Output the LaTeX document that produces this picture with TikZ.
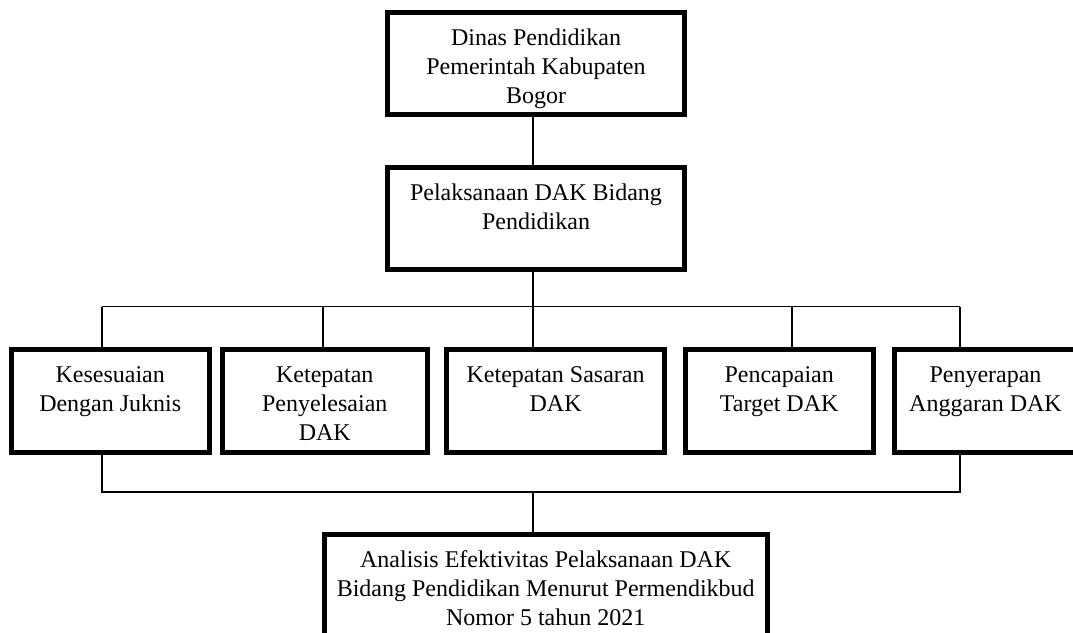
\documentclass[tikz,border=0pt]{standalone}
\usepackage{fontspec}
\setmainfont{Liberation Serif}
\newcommand{\isikotak}[3]{\parbox[c][#2][t]{#1}{\centering\rule{0pt}{16.5pt}#3}}

\begin{document}
\begin{tikzpicture}[x=0.5pt,y=-0.5pt]
\tikzset{
  kotak/.style={draw,line width=2.5pt,inner sep=0pt,font=\fontsize{12}{14.6}\selectfont},
  garis/.style={line width=0.75pt}
}
\useasboundingbox (0,0) rectangle (1073,633);
\node[kotak] (dinas) at (536,63.5) {\isikotak{148.5pt}{51pt}{Dinas Pendidikan\\Pemerintah Kabupaten\\Bogor}};
\node[kotak] (pelaksanaan) at (536,218.5) {\isikotak{148.5pt}{51pt}{Pelaksanaan DAK Bidang\\Pendidikan}};
\node[kotak] (k1) at (110.25,400.75) {\isikotak{98.75pt}{51.25pt}{Kesesuaian\\Dengan Juknis}};
\node[kotak] (k2) at (324.75,400.75) {\isikotak{102.75pt}{51.25pt}{Ketepatan\\Penyelesaian\\DAK}};
\node[kotak] (k3) at (555.6,400.75) {\isikotak{108.65pt}{51.25pt}{Ketepatan Sasaran\\DAK}};
\node[kotak] (k4) at (779.2,400.75) {\isikotak{94.2pt}{51.25pt}{Pencapaian\\Target DAK}};
\node[kotak] (k5) at (985.5,400.75) {\isikotak{91.5pt}{51.25pt}{Penyerapan\\Anggaran DAK}};
\node[kotak] (analisis) at (545.75,585) {\isikotak{221.75pt}{51pt}{Analisis Efektivitas Pelaksanaan DAK\\Bidang Pendidikan Menurut Permendikbud\\Nomor 5 tahun 2021}};
% garis penghubung
\foreach \k/\x in {k1/102,k2/323,k3/533,k4/792,k5/960}{
  \coordinate (t\k) at (\x,306.7);
  \draw[garis] (t\k) -- (t\k |- \k.north);
}
\coordinate (b1) at (102,492);
\coordinate (b3) at (533,492);
\coordinate (b5) at (960,492);
\draw[garis] (dinas.south -| tk3) -- (pelaksanaan.north -| tk3);
\draw[garis] (pelaksanaan.south -| tk3) -- (tk3);
\draw[garis] (tk1) -- (tk5);
\draw[garis] (k1.south -| b1) -- (b1) -- (b5) -- (k5.south -| b5);
\draw[garis] (b3) -- (analisis.north -| b3);
\end{tikzpicture}
\end{document}
